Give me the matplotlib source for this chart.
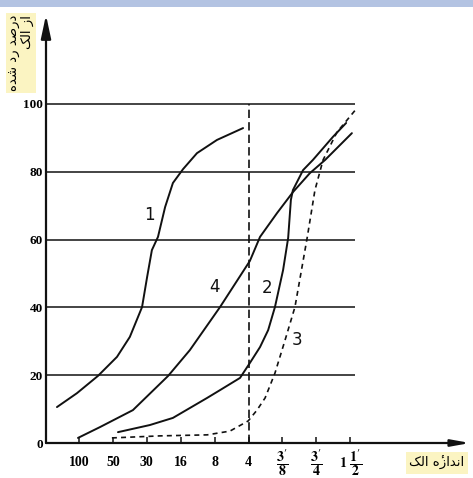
import numpy as np
import matplotlib
matplotlib.use("Agg")
import matplotlib.pyplot as plt
from matplotlib.patches import Rectangle

# === Data ===
# x positions are sieve index positions 0..8
sieve_labels = ["100", "50", "30", "16", "8", "4",
                r"$\mathbf{\dfrac{3'}{8}}$", r"$\mathbf{\dfrac{3'}{4}}$",
                r"$\mathbf{1}\ \mathbf{\dfrac{1'}{2}}$"]
y_ticks = [0, 20, 40, 60, 80, 100]

curve1_x = [-0.65, -0.06, 0.56, 1.12, 1.50, 1.86, 2.01, 2.15, 2.33, 2.54, 2.77, 3.07, 3.48, 4.07, 4.84]
curve1_y = [10.6, 14.7, 19.8, 25.4, 31.3, 40.1, 49.0, 56.9, 60.8, 69.6, 76.7, 80.8, 85.5, 89.4, 92.9]

curve2_x = [1.15, 2.09, 2.77, 3.78, 4.16, 4.75, 5.04, 5.34, 5.58, 5.78, 6.02, 6.17, 6.25, 6.31, 6.61, 6.90, 7.49, 7.88]
curve2_y = [3.2, 5.3, 7.4, 13.3, 15.6, 19.2, 23.6, 28.3, 33.3, 40.1, 51.0, 60.5, 71.7, 74.6, 80.5, 83.5, 90.3, 94.4]

curve3_x = [0.97, 2.39, 3.78, 4.45, 4.99, 5.25, 5.49, 5.78, 6.08, 6.37, 6.73, 6.96, 7.20, 7.61, 7.91, 8.20]
curve3_y = [1.5, 2.1, 2.4, 3.5, 6.5, 9.7, 13.3, 20.6, 30.4, 40.1, 60.5, 74.6, 83.5, 91.7, 95.3, 98.8]

curve4_x = [-0.03, 0.62, 1.59, 2.63, 3.27, 4.16, 5.04, 5.34, 5.84, 6.31, 6.81, 7.26, 8.05]
curve4_y = [1.5, 4.7, 9.7, 19.8, 27.4, 40.1, 53.7, 60.8, 67.8, 74.0, 79.6, 83.5, 91.4]

curve_labels = ["1", "2", "3", "4"]
label_x = [2.09, 5.55, 6.43, 4.01]
label_y = [67.3, 45.7, 30.4, 46.0]

split_x = 5  # dashed line at sieve no. 4

# Persian texts (pre-shaped presentation forms, visual order)
ylabel_line1 = "\uFEE9\uFEAA\uFEB7 \uFEA9\uFEAD \uFEAA\uFEBB\uFEAD\uFEA9"  # درصد رد شده
ylabel_line2 = "\uFB8F\uFEDF\uFE8D \uFEAF\uFE8D"                          # از الک
xlabel_text = "\uFB8F\uFEDF\uFE8D \uFEE9\u0654\uFEAF\uFE8D\uFEAA\uFEE7\uFE8D"  # اندازهٔ الک

W, H = 473, 478
ink = "#111111"

plt.rcParams["mathtext.fontset"] = "stix"
fig = plt.figure(figsize=(W / 100, H / 100), dpi=100)
fig.patch.set_facecolor("white")

# window title band at the very top
fig.patches.append(Rectangle((0, 1 - 7 / H), 1, 7 / H, transform=fig.transFigure,
                             facecolor="#b3c3e2", edgecolor="none", zorder=0))

px0, px_step = 79, 33.9
y0_px, y_scale = 443, 3.39
left_px, right_px, top_px = 46, 470, 15
ax = fig.add_axes([left_px / W, (H - y0_px) / H, (right_px - left_px) / W, (y0_px - top_px) / H])
ax.set_xlim((left_px - px0) / px_step, (right_px - px0) / px_step)
ax.set_ylim(0, (y0_px - top_px) / y_scale)

for s in ax.spines.values():
    s.set_visible(False)

# axes with arrows
ax.annotate("", xy=(0, 1), xytext=(0, 0), xycoords="axes fraction",
            arrowprops=dict(arrowstyle="-|>,head_length=1.4,head_width=0.3",
                            color=ink, lw=1.6, shrinkA=0, shrinkB=0))
ax.annotate("", xy=(1, 0), xytext=(0, 0), xycoords="axes fraction",
            arrowprops=dict(arrowstyle="-|>,head_length=1.1,head_width=0.2",
                            color=ink, lw=1.6, shrinkA=0, shrinkB=0))

# horizontal grid lines
grid_end = 8.15
ax.hlines(y_ticks[1:], ax.get_xlim()[0], grid_end, color=ink, lw=1.1)

# dashed vertical split line
ax.plot([split_x, split_x], [0, 100], color=ink, lw=1.2, linestyle=(0, (5, 2.5)))

# curves
ax.plot(curve1_x, curve1_y, color=ink, lw=1.4, solid_capstyle="round", solid_joinstyle="round")
ax.plot(curve2_x, curve2_y, color=ink, lw=1.4, solid_capstyle="round", solid_joinstyle="round")
ax.plot(curve3_x, curve3_y, color=ink, lw=1.2, linestyle=(0, (3, 2.5)))
ax.plot(curve4_x, curve4_y, color=ink, lw=1.4, solid_capstyle="round", solid_joinstyle="round")

for t, x, y in zip(curve_labels, label_x, label_y):
    ax.text(x, y, t, fontsize=12, ha="center", va="center", color=ink,
            family="DejaVu Sans")

# ticks
ax.set_xticks(range(len(sieve_labels)))
ax.set_xticklabels(sieve_labels, fontfamily="Liberation Serif", fontweight="bold", fontsize=10)
ax.tick_params(axis="x", direction="in", length=4, width=1.1, color=ink, pad=14)
for lbl in ax.get_xticklabels():
    lbl.set_verticalalignment("center")
ax.set_yticks(y_ticks)
ax.set_yticklabels([str(v) for v in y_ticks], fontfamily="Liberation Serif",
                   fontweight="bold", fontsize=9.5)
ax.tick_params(axis="y", length=0, pad=2)

# Persian axis labels with yellow highlight
fig.text(21 / W, 1 - 53 / H, ylabel_line1 + "\n" + ylabel_line2, rotation=90,
         ha="center", va="center", multialignment="right", fontsize=9.5,
         family=["DejaVu Sans"], linespacing=1.0,
         bbox=dict(facecolor="#fbf4c2", edgecolor="none", pad=1.5))
fig.text(437 / W, 1 - 463 / H, xlabel_text, ha="center", va="center", fontsize=9.5,
         family=["DejaVu Sans"],
         bbox=dict(facecolor="#fbf4c2", edgecolor="none", pad=2.5))

fig.savefig("out.png", dpi=100)
